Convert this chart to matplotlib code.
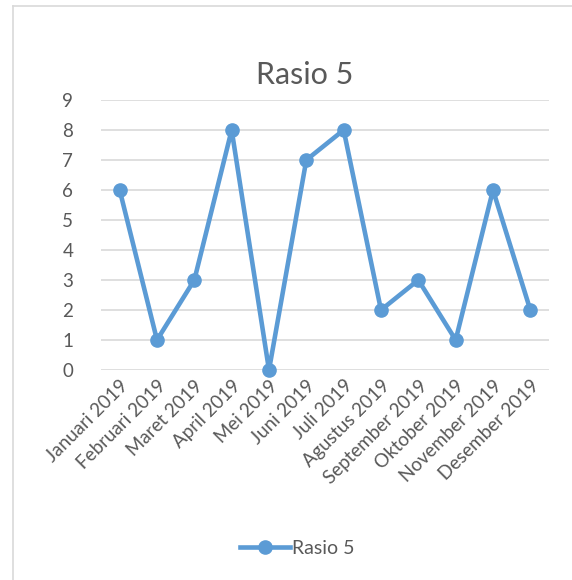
import matplotlib.pyplot as plt
from matplotlib.lines import Line2D

months = ['Januari 2019', 'Februari 2019', 'Maret 2019', 'April 2019', 'Mei 2019',
          'Juni 2019', 'Juli 2019', 'Agustus 2019', 'September 2019', 'Oktober 2019',
          'November 2019', 'Desember 2019']
rasio5 = [6, 1, 3, 8, 0, 7, 8, 2, 3, 1, 6, 2]
y_ticks = list(range(0, 10))

plt.rcParams['font.family'] = ['Lato', 'DejaVu Sans']
text_col = '#595959'
line_col = '#5B9BD5'

W, H = 572, 580
fig = plt.figure(figsize=(W / 100, H / 100), dpi=100)

# chart border (only left and top edges show in the crop)
fig.add_artist(Line2D([13 / W, 13 / W], [0, 1 - 6 / H], color='#D9D9D9', lw=1.2))
fig.add_artist(Line2D([13 / W, 1], [1 - 6 / H, 1 - 6 / H], color='#D9D9D9', lw=1.2))

ax = fig.add_axes([101 / W, 1 - 370 / H, 448 / W, 270 / H])
x = range(len(months))
ax.plot(x, rasio5, color=line_col, lw=3.3, marker='o', ms=9.5, label='Rasio 5',
        zorder=3, clip_on=False)

ax.set_xlim(-0.5, len(months) - 0.5)
ax.set_ylim(0, 9)
ax.set_yticks(y_ticks)
ax.set_xticks(list(x))
ax.set_xticklabels(months, rotation=45, ha='right', rotation_mode='anchor')
ax.tick_params(length=0, colors=text_col, labelsize=13.5)
ax.tick_params(axis='y', pad=20)
ax.tick_params(axis='x', pad=5)
ax.grid(axis='y', color='#D9D9D9', lw=1.2)
ax.set_axisbelow(True)
for s in ax.spines.values():
    s.set_visible(False)

fig.text(305 / W, 1 - 75 / H, 'Rasio 5', ha='center', va='center', fontsize=22, color=text_col)

fig.legend(loc='center', bbox_to_anchor=(297 / W, 1 - 548 / H), frameon=False,
           fontsize=14, labelcolor=text_col, handlelength=2.6, handletextpad=0.1)

fig.savefig('out.png', dpi=100)
